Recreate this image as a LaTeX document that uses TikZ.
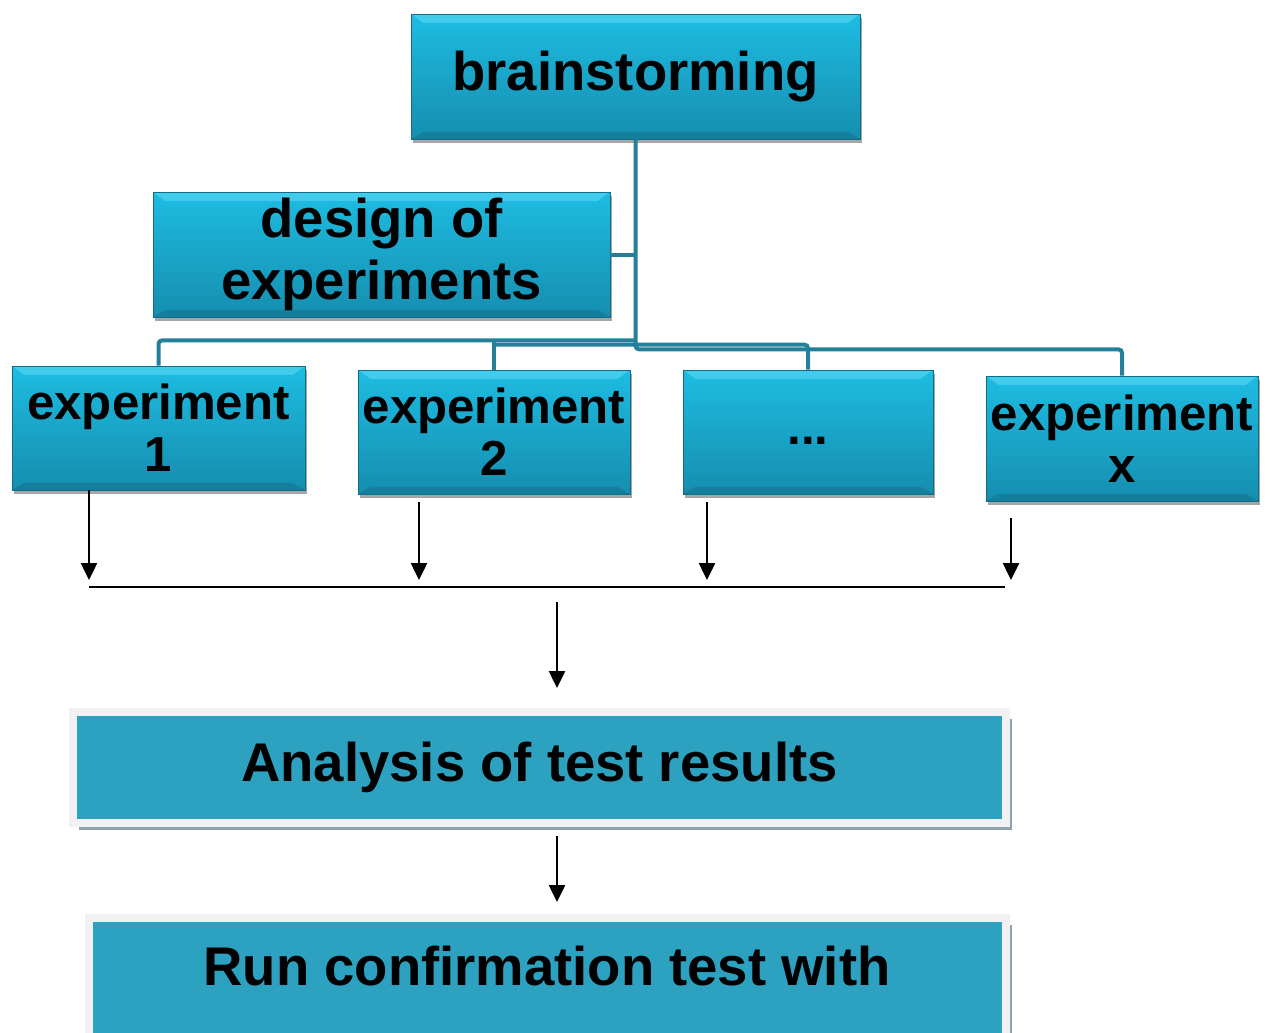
\documentclass[tikz,border=0pt]{standalone}
\usepackage{fontspec}
\setmainfont{Liberation Sans}
\usetikzlibrary{arrows.meta, shadows}
\definecolor{boxtop}{RGB}{30, 188, 226}
\definecolor{boxbot}{RGB}{21, 142, 175}
\definecolor{boxhi}{RGB}{110, 225, 248}
\definecolor{boxedge}{RGB}{18, 108, 134}
\definecolor{linkteal}{RGB}{35, 128, 152}
\definecolor{flatblue}{RGB}{44, 162, 192}
\definecolor{framegray}{RGB}{241, 241, 243}
\definecolor{shadegray}{RGB}{142, 163, 172}

\tikzset{
	bevelbox/.style={rectangle, inner sep=0pt, align=center,
		top color=boxtop, bottom color=boxbot, draw=boxedge, line width=0.4pt,
		drop shadow={shadow xshift=1pt, shadow yshift=-2.5pt, opacity=.35, fill=black},
		path picture={
			\fill[boxhi, opacity=.45] (path picture bounding box.north west) -- (path picture bounding box.north east)
				-- ([xshift=-7pt, yshift=-5pt]path picture bounding box.north east) -- ([xshift=7pt, yshift=-5pt]path picture bounding box.north west) -- cycle;
			\fill[boxedge, opacity=.45] (path picture bounding box.south west) -- (path picture bounding box.south east)
				-- ([xshift=-7pt, yshift=4pt]path picture bounding box.south east) -- ([xshift=7pt, yshift=4pt]path picture bounding box.south west) -- cycle;
		}},
	flatbox/.style={rectangle, inner sep=0pt, fill=flatblue, draw=framegray, line width=0.16cm,
		drop shadow={shadow xshift=0.12cm, shadow yshift=-0.14cm, opacity=1, fill=shadegray}},
	bigfont/.style={font=\bfseries\fontsize{31}{35}\selectfont},
	expfont/.style={font=\bfseries\fontsize{28}{29.5}\selectfont},
	link/.style={linkteal, line width=0.08cm, rounded corners=2pt},
	flow/.style={black, line width=1.4pt, -{Triangle[length=0.34cm, width=0.32cm]}},
	bus/.style={black, line width=1.2pt}
}

\begin{document}
\begin{tikzpicture}[x=0.02cm, y=0.02cm]
	\def\u{0.02cm}
	\useasboundingbox (0,0) rectangle (1270,-1032);

	% Top of the tree
	\node[bevelbox, bigfont, minimum width=449*\u, minimum height=125*\u] (brain) at (635.5,-76.5) {brainstorming};
	\node[bevelbox, bigfont, minimum width=457*\u, minimum height=125*\u] (design) at (381.5,-254.5) {design of\\experiments};

	% Experiment row
	\node[bevelbox, expfont, minimum width=293*\u, minimum height=124*\u] (exp1) at (158.5,-428) {experiment\\1};
	\node[bevelbox, expfont, minimum width=272*\u, minimum height=124*\u] (exp2) at (494,-432) {experiment\\2};
	\node[bevelbox, expfont, minimum width=250*\u, minimum height=124*\u, text height=25*\u, text depth=1*\u] (dots) at (808,-432) {...};
	\node[bevelbox, expfont, minimum width=272*\u, minimum height=125*\u] (expx) at (1122,-438.5) {experiment\\x};

	% Tree connectors
	\draw[link] (design.east) -- (design.east -| brain.south);
	\draw[link] (brain.south) -- ++(0,-210) -| (expx.north);
	\draw[link] ([yshift=-201*\u]brain.south) -| (exp1.north);
	\draw[link] (exp2.north) -- ++(0,30);
	\draw[link] ([yshift=25*\u]exp2.north) -| (dots.north);

	% Arrows down to the bus
	\foreach \x/\y [count=\i] in {89/490, 419/502, 707/502, 1011/518} {
		\coordinate (top\i) at (\x,-\y);
		\coordinate (tip\i) at (\x,-580);
		\draw[flow] (top\i) -- (tip\i);
	}
	\coordinate (busW) at (89,-587);
	\coordinate (busE) at (1005,-587);
	\draw[bus] (busW) -- (busE);

	% Lower boxes
	\node[flatbox, bigfont, minimum width=933*\u, minimum height=111*\u] (analysis) at (539.5,-767.5) {Analysis of test results};
	\node[flatbox, bigfont, minimum width=917*\u, text height=67*\u, text depth=64*\u, anchor=north] (confirm) at (547,-914) {Run confirmation test with};

	\coordinate (mergeA) at (557,-602);
	\coordinate (mergeB) at (557,-688);
	\draw[flow] (mergeA) -- (mergeB);
	\coordinate (nextA) at (557,-836);
	\coordinate (nextB) at (557,-902);
	\draw[flow] (nextA) -- (nextB);

\end{tikzpicture}
\end{document}
